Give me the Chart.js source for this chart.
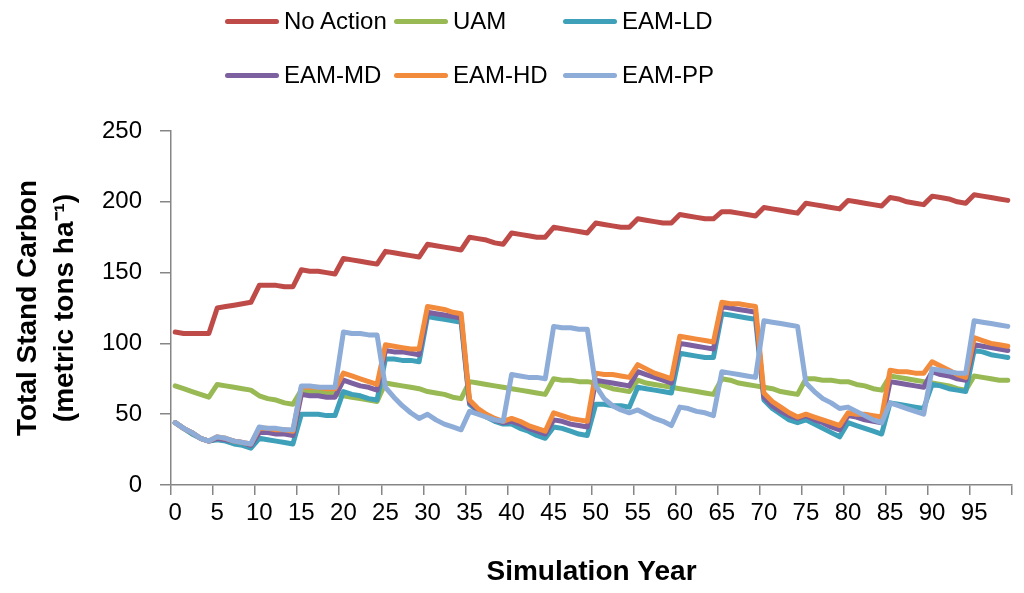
<!DOCTYPE html>
<html lang="en">
<head>
<meta charset="UTF-8">
<title>Total Stand Carbon</title>
<script src="https://cdn.jsdelivr.net/npm/chart.js"></script>
<style>
  html, body { margin: 0; padding: 0; background: #fff; }
  .wrap { position: relative; width: 1024px; height: 593px; }
  .legenda { position: absolute; left: 0; top: 0; width: 1024px; height: 100px;
             font-family: 'Liberation Sans', Arial, sans-serif; font-size: 24px; color: #000; }
  .item { position: absolute; display: flex; align-items: center; height: 30px; white-space: nowrap; }
  .item span.linha { display: inline-block; width: 54px; height: 5px; border-radius: 3px; margin-right: 5px; }
</style>
</head>
<body>
<div class="wrap">
  <canvas id="grafico"></canvas>
  <div class="legenda" id="legenda"></div>
</div>

<script>
// anos da simulacao (categorias)
const years = [];
for (let i = 0; i < 100; i++) years.push(String(i));

const noAction = [
  108, 107, 107, 107, 107, 125, 126, 127, 128, 129,
  141, 141, 141, 140, 140, 152, 151, 151, 150, 149,
  160, 159, 158, 157, 156, 165, 164, 163, 162, 161,
  170, 169, 168, 167, 166, 175, 174, 173, 171, 170,
  178, 177, 176, 175, 175, 182, 181, 180, 179, 178,
  185, 184, 183, 182, 182, 188, 187, 186, 185, 185,
  191, 190, 189, 188, 188, 193, 193, 192, 191, 190,
  196, 195, 194, 193, 192, 199, 198, 197, 196, 195,
  201, 200, 199, 198, 197, 203, 202, 200, 199, 198,
  204, 203, 202, 200, 199, 205, 204, 203, 202, 201
];

const uam = [
  70, 68, 66, 64, 62, 71, 70, 69, 68, 67,
  63, 61, 60, 58, 57, 67, 66, 66, 65, 65,
  63, 62, 61, 60, 59, 72, 71, 70, 69, 68,
  66, 65, 64, 62, 61, 73, 72, 71, 70, 69,
  68, 67, 66, 65, 64, 75, 74, 74, 73, 73,
  72, 70, 68, 67, 66, 74, 72, 71, 70, 69,
  68, 67, 66, 65, 64, 75, 74, 72, 71, 70,
  69, 68, 66, 65, 64, 75, 75, 74, 74, 73,
  73, 71, 70, 68, 67, 77, 76, 75, 74, 73,
  72, 71, 70, 68, 67, 77, 76, 75, 74, 74
];

const eamLD = [
  44, 40, 36, 33, 31, 32, 31, 29, 28, 26,
  33, 32, 31, 30, 29, 50, 50, 50, 49, 49,
  66, 64, 63, 61, 60, 89, 89, 88, 88, 87,
  119, 118, 117, 116, 115, 57, 52, 48, 45, 43,
  43, 40, 38, 35, 33, 41, 40, 38, 36, 35,
  57, 57, 56, 56, 55, 69, 68, 67, 66, 65,
  93, 92, 91, 90, 90, 121, 120, 119, 118, 117,
  60, 54, 50, 46, 44, 46, 43, 40, 37, 34,
  44, 42, 40, 38, 36, 58, 57, 56, 55, 54,
  71, 70, 68, 67, 66, 95, 94, 92, 91, 90
];

const eamMD = [
  44, 40, 37, 33, 31, 33, 32, 31, 30, 28,
  37, 37, 36, 36, 35, 64, 63, 63, 62, 62,
  74, 72, 70, 69, 67, 95, 94, 94, 93, 92,
  122, 121, 120, 119, 118, 58, 53, 49, 46, 44,
  45, 43, 40, 38, 36, 46, 45, 43, 42, 41,
  74, 73, 72, 71, 70, 80, 78, 76, 74, 72,
  100, 99, 98, 97, 96, 126, 125, 124, 123, 122,
  62, 56, 52, 49, 47, 49, 46, 44, 41, 39,
  49, 48, 46, 45, 44, 73, 72, 71, 70, 69,
  80, 78, 77, 75, 74, 99, 98, 97, 96, 95
];

const eamHD = [
  44, 40, 37, 33, 31, 34, 33, 31, 30, 29,
  40, 40, 39, 39, 38, 69, 69, 69, 68, 68,
  79, 77, 75, 73, 71, 99, 98, 97, 96, 96,
  126, 125, 124, 122, 121, 60, 54, 50, 47, 45,
  47, 45, 42, 40, 38, 51, 49, 47, 46, 45,
  79, 78, 78, 77, 76, 85, 82, 79, 77, 75,
  105, 104, 103, 102, 101, 129, 128, 128, 127, 126,
  65, 59, 55, 51, 48, 50, 48, 46, 44, 42,
  51, 50, 50, 49, 48, 81, 80, 80, 79, 79,
  87, 84, 81, 78, 76, 104, 102, 100, 99, 98
];

const eamPP = [
  44, 40, 37, 33, 31, 34, 33, 31, 30, 29,
  41, 40, 40, 39, 39, 70, 70, 69, 69, 69,
  108, 107, 107, 106, 106, 69, 62, 56, 51, 47,
  50, 46, 43, 41, 39, 52, 50, 48, 46, 45,
  78, 77, 76, 76, 75, 112, 111, 111, 110, 110,
  70, 61, 56, 53, 51, 53, 50, 47, 45, 42,
  55, 54, 52, 51, 49, 80, 79, 78, 77, 76,
  116, 115, 114, 113, 112, 72, 66, 61, 58, 54,
  55, 52, 49, 46, 44, 58, 56, 54, 52, 50,
  82, 81, 80, 79, 79, 116, 115, 114, 113, 112
];

const yTicks = [0, 50, 100, 150, 200, 250];

const series = [
  { nome: 'No Action', valores: noAction, cor: '#BE4B48' },
  { nome: 'UAM',       valores: uam,      cor: '#98B954' },
  { nome: 'EAM-LD',    valores: eamLD,    cor: '#3FA0BA' },
  { nome: 'EAM-MD',    valores: eamMD,    cor: '#7D60A0' },
  { nome: 'EAM-HD',    valores: eamHD,    cor: '#F38B3C' },
  { nome: 'EAM-PP',    valores: eamPP,    cor: '#8EACD8' }
];

// legenda em html, 3 colunas x 2 linhas
const colX = [225, 394, 563];
const rowY = [6, 60];
const legenda = document.getElementById('legenda');
series.forEach(function (s, i) {
  const item = document.createElement('div');
  item.className = 'item';
  item.style.left = colX[i % 3] + 'px';
  item.style.top = rowY[Math.floor(i / 3)] + 'px';
  item.innerHTML = '<span class="linha" style="background:' + s.cor + '"></span>' + s.nome;
  legenda.appendChild(item);
});

const eixoCor = '#868686';

const config = {
  type: 'line',
  data: {
    labels: years,
    datasets: series.map(function (s, i) {
      return {
        label: s.nome,
        data: s.valores,
        borderColor: s.cor,
        backgroundColor: s.cor,
        borderWidth: 5,
        pointRadius: 0,
        tension: 0,
        borderJoinStyle: 'round',
        borderCapStyle: 'round',
        order: series.length - 1 - i
      };
    })
  },
  options: {
    responsive: true,
    maintainAspectRatio: false,
    animation: false,
    layout: { padding: { top: 131, right: 12, bottom: 0, left: 0 } },
    plugins: {
      legend: { display: false },
      tooltip: { enabled: false }
    },
    scales: {
      x: {
        type: 'category',
        offset: true,
        afterFit: function (s) { s.height = 108; },
        grid: {
          offset: true,
          drawOnChartArea: false,
          tickLength: 10,
          lineWidth: 1.5,
          color: function (ctx) {
            return (ctx.index === undefined || ctx.index % 5 === 0) ? eixoCor : 'rgba(0,0,0,0)';
          }
        },
        border: { color: eixoCor, width: 1.5 },
        ticks: {
          autoSkip: false,
          maxRotation: 0,
          minRotation: 0,
          padding: 4,
          color: '#000',
          font: { family: "'Liberation Sans', Arial, sans-serif", size: 24 },
          callback: function (val, idx) { return idx % 5 === 0 ? years[idx] : ''; }
        },
        title: {
          display: true,
          text: 'Simulation Year',
          color: '#000',
          padding: { top: 0, bottom: 4 },
          font: { family: "'Liberation Sans', Arial, sans-serif", size: 28, weight: 'bold', lineHeight: 1.2 }
        }
      },
      y: {
        min: 0,
        max: 250,
        afterFit: function (s) { s.width = 171; },
        afterBuildTicks: function (s) { s.ticks = yTicks.map(function (v) { return { value: v }; }); },
        grid: {
          drawOnChartArea: false,
          tickLength: 11,
          lineWidth: 1.5,
          color: eixoCor
        },
        border: { color: eixoCor, width: 1.5 },
        ticks: {
          padding: 18,
          color: '#000',
          font: { family: "'Liberation Sans', Arial, sans-serif", size: 24 }
        },
        title: {
          display: true,
          text: ['Total Stand Carbon', '(metric tons ha\u207B\u00B9)'],
          color: '#000',
          padding: { top: 9, bottom: 0 },
          font: { family: "'Liberation Sans', Arial, sans-serif", size: 28, weight: 'bold', lineHeight: 1.35 }
        }
      }
    }
  }
};

let grafico = new Chart(document.getElementById('grafico'), config);
</script>
</body>
</html>
